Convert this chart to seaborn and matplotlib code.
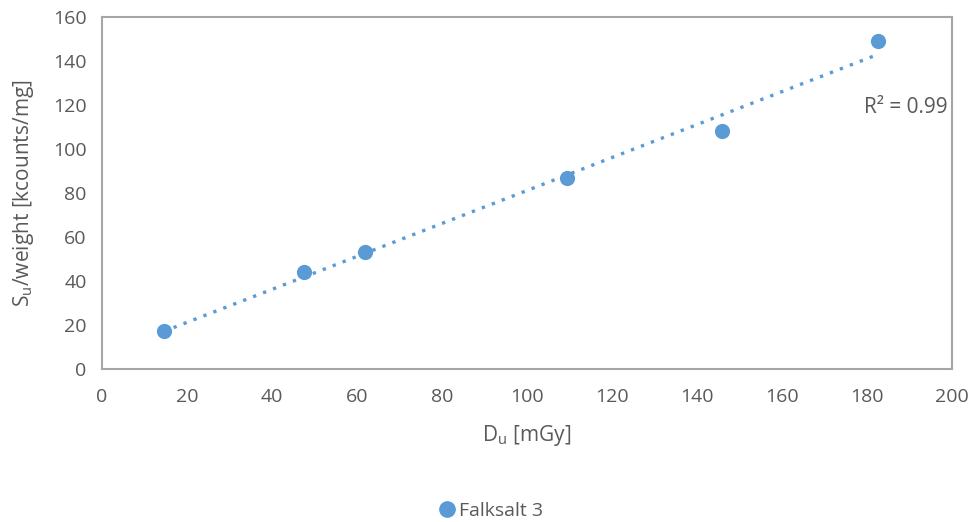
import numpy as np
import pandas as pd
import seaborn as sns
import matplotlib.pyplot as plt

# data
dose = [14.5, 47.5, 62.0, 109.5, 146.0, 182.5]
signal = [17.3, 44.1, 53.1, 86.8, 108.2, 149.2]
series_name = 'Falksalt 3'
x_ticks = [0, 20, 40, 60, 80, 100, 120, 140, 160, 180, 200]
y_ticks = [0, 20, 40, 60, 80, 100, 120, 140, 160]

df = pd.DataFrame({'dose': dose, 'signal': signal})

sns.set_style('white')
plt.rcParams['font.family'] = ['Open Sans', 'DejaVu Sans']
plt.rcParams['mathtext.fontset'] = 'custom'
plt.rcParams['mathtext.rm'] = 'Open Sans'

blue = '#5B9BD5'
grey = '#595959'

fig = plt.figure(figsize=(9.74, 5.22), dpi=100)
ax = fig.add_axes([0.1047, 0.293, 0.8727, 0.674])

sns.regplot(data=df, x='dose', y='signal', ax=ax, ci=None, truncate=True,
            scatter_kws={'s': 120, 'color': blue, 'alpha': 1, 'zorder': 3, 'linewidths': 0},
            line_kws={'color': blue, 'linestyle': (0, (1, 2.2)), 'linewidth': 2.4})

r2 = np.corrcoef(dose, signal)[0, 1] ** 2
ax.text(199, 119, 'R² = %.2f' % r2, ha='right', va='center', fontsize=15, color=grey)

ax.set_xlim(0, 200)
ax.set_ylim(0, 160)
ax.set_xticks(x_ticks)
ax.set_yticks(y_ticks)
ax.tick_params(axis='both', labelsize=14, labelcolor=grey, length=0)
ax.tick_params(axis='y', pad=11)
ax.tick_params(axis='x', pad=14)
for s in ax.spines.values():
    s.set_color('#a6a6a6')
    s.set_linewidth(1.5)

ax.set_xlabel(r'D$_\mathregular{u}$ [mGy]', fontsize=15, color=grey, labelpad=12)
ax.set_ylabel(r'S$_\mathregular{u}$/weight [kcounts/mg]', fontsize=15, color=grey, labelpad=12)

handle = plt.Line2D([], [], marker='o', linestyle='', color=blue, markersize=11)
fig.legend([handle], [series_name], loc='center', bbox_to_anchor=(0.503, 0.022),
           frameon=False, fontsize=14, labelcolor=grey, handletextpad=0.1,
           handlelength=1)

fig.savefig('out.png', dpi=100)
